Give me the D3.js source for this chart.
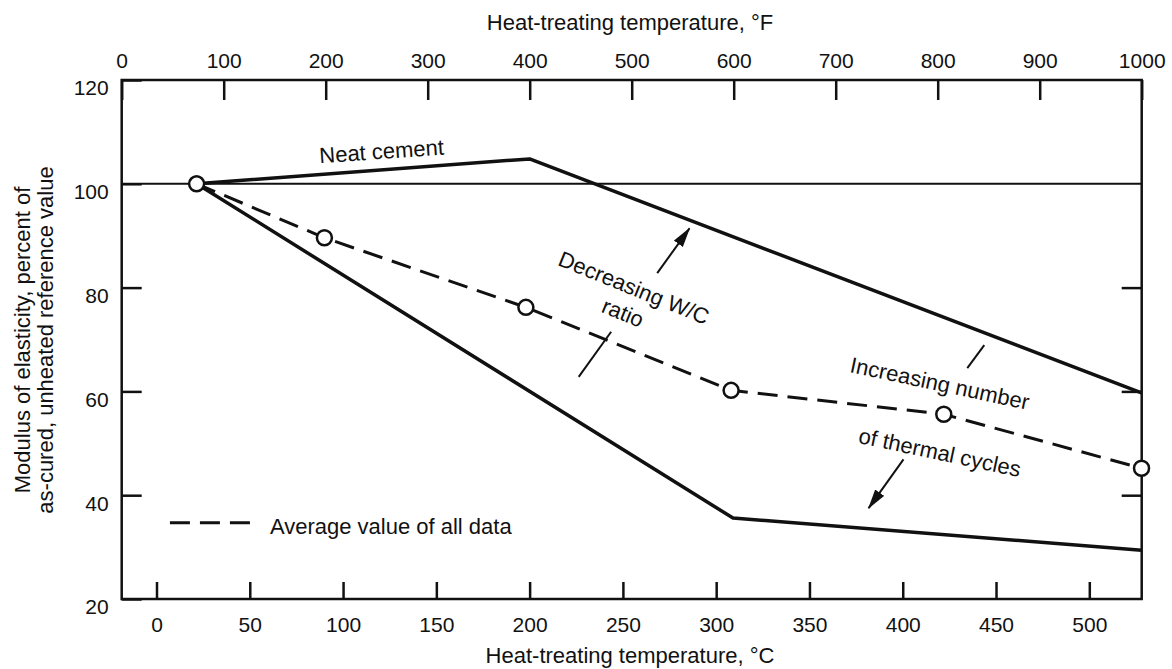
<!DOCTYPE html>
<html>
<head>
<meta charset="utf-8">
<script src="https://cdn.jsdelivr.net/npm/d3@7"></script>
<style>
body { margin: 0; background: #fff; }
svg text { font-family: "Liberation Sans", Arial, sans-serif; fill: #111; }
</style>
</head>
<body>
<div id="chart"></div>
<script>
// temperatures in deg C, modulus in percent of the unheated value
var neatTemp = [21.5, 200, 528];
var neatModulus = [100, 104.8, 59.7];
var lowTemp = [21.5, 309, 528];
var lowModulus = [100, 35.6, 29.4];
var avgTemp = [21.5, 90, 198, 308, 422, 528];
var avgModulus = [100, 89.6, 76.2, 60.2, 55.6, 45.2];

var celsiusTicks = [0, 50, 100, 150, 200, 250, 300, 350, 400, 450, 500];
var fahrenheitTicks = [0, 100, 200, 300, 400, 500, 600, 700, 800, 900, 1000];
var modulusTicks = [20, 40, 60, 80, 100, 120];
var rightTicks = [40, 60, 80];

var width = 1172,
    height = 669;

var svg = d3.select("#chart")
    .append("svg")
    .attr("width", width)
    .attr("height", height)
    .style("background-color", "#fff");

var xC = d3.scaleLinear().domain([0, 500]).range([156.5, 1089.3]);
var xF = d3.scaleLinear().domain([0, 1000]).range([121.7, 1141.7]);
var y = d3.scaleLinear().domain([20, 120]).range([599, 80]);

var ink = "#111";
var fmt = d3.format("d");

function styleAxis(g) {
    g.attr("font-size", 21).attr("font-family", null);
    g.select(".domain").remove();
    g.selectAll(".tick line").attr("stroke", ink).attr("stroke-width", 2.5);
    g.selectAll(".tick text").attr("fill", ink);
}

// bottom axis, deg C
svg.append("g")
    .attr("transform", "translate(0," + y(20) + ")")
    .call(d3.axisBottom(xC).tickValues(celsiusTicks).tickFormat(fmt).tickSizeInner(-17).tickSizeOuter(0).tickPadding(18))
    .call(styleAxis);

// top axis, deg F
svg.append("g")
    .attr("transform", "translate(0," + y(120) + ")")
    .call(d3.axisTop(xF).tickValues(fahrenheitTicks).tickFormat(fmt).tickSizeInner(-20).tickSizeOuter(0).tickPadding(12))
    .call(styleAxis);

// left axis
svg.append("g")
    .attr("transform", "translate(" + xF(0) + ",0)")
    .call(d3.axisLeft(y).tickValues(modulusTicks).tickFormat(fmt).tickSizeInner(-20).tickSizeOuter(0).tickPadding(13))
    .call(styleAxis)
    .selectAll(".tick text").attr("dy", "0.71em");

// right axis, ticks only
svg.append("g")
    .attr("transform", "translate(" + xF(1000) + ",0)")
    .call(d3.axisRight(y).tickValues(rightTicks).tickSizeInner(-20).tickSizeOuter(0).tickFormat(""))
    .call(styleAxis);

// frame
svg.append("rect")
    .attr("x", xF(0))
    .attr("y", y(120))
    .attr("width", xF(1000) - xF(0))
    .attr("height", y(20) - y(120))
    .attr("fill", "none")
    .attr("stroke", ink)
    .attr("stroke-width", 2.5);

// 100 % reference line
svg.append("line")
    .attr("x1", xF(0)).attr("x2", xF(1000))
    .attr("y1", y(100)).attr("y2", y(100))
    .attr("stroke", ink)
    .attr("stroke-width", 2);

var line = d3.line()
    .x(function (d) { return xC(d[0]); })
    .y(function (d) { return y(d[1]); });

svg.append("path")
    .datum(d3.zip(neatTemp, neatModulus))
    .attr("d", line)
    .attr("fill", "none")
    .attr("stroke", ink)
    .attr("stroke-width", 3.5)
    .attr("stroke-linejoin", "round");

svg.append("path")
    .datum(d3.zip(lowTemp, lowModulus))
    .attr("d", line)
    .attr("fill", "none")
    .attr("stroke", ink)
    .attr("stroke-width", 3.5)
    .attr("stroke-linejoin", "round");

svg.append("path")
    .datum(d3.zip(avgTemp, avgModulus))
    .attr("d", line)
    .attr("fill", "none")
    .attr("stroke", ink)
    .attr("stroke-width", 3)
    .attr("stroke-dasharray", "20,10");

svg.selectAll("circle.avg")
    .data(d3.zip(avgTemp, avgModulus))
    .enter()
    .append("circle")
    .attr("class", "avg")
    .attr("cx", function (d) { return xC(d[0]); })
    .attr("cy", function (d) { return y(d[1]); })
    .attr("r", 7.5)
    .attr("fill", "#fff")
    .attr("stroke", ink)
    .attr("stroke-width", 2.5);

// axis titles
svg.append("text")
    .attr("x", 630).attr("y", 30)
    .attr("text-anchor", "middle")
    .attr("font-size", 22)
    .text("Heat-treating temperature, \u00b0F");

svg.append("text")
    .attr("x", 630).attr("y", 663)
    .attr("text-anchor", "middle")
    .attr("font-size", 22)
    .text("Heat-treating temperature, \u00b0C");

var yTitle = ["Modulus of elasticity, percent of", "as-cured, unheated reference value"];
svg.selectAll("text.ytitle")
    .data(yTitle)
    .enter()
    .append("text")
    .attr("class", "ytitle")
    .attr("text-anchor", "middle")
    .attr("font-size", 22)
    .attr("transform", function (d, i) { return "translate(" + (30 + i * 23) + ",340) rotate(-90)"; })
    .text(function (d) { return d; });

// annotations, placed in data units
var defs = svg.append("defs");
defs.append("marker")
    .attr("id", "head")
    .attr("markerUnits", "userSpaceOnUse")
    .attr("markerWidth", 20)
    .attr("markerHeight", 12)
    .attr("refX", 19)
    .attr("refY", 6)
    .attr("orient", "auto")
    .append("path")
    .attr("d", "M0,0.5 L20,6 L0,11.5 Z")
    .attr("fill", ink);

var notes = [
    { text: "Neat cement", t: 120.9, m: 104.8, angle: -4 },
    { text: "Decreasing W/C", t: 254.4, m: 78.6, angle: 22 },
    { text: "ratio", t: 248.5, m: 73.8, angle: 22 },
    { text: "Increasing number", t: 419, m: 60.1, angle: 12 },
    { text: "of thermal cycles", t: 419, m: 46.8, angle: 12 }
];

svg.selectAll("text.note")
    .data(notes)
    .enter()
    .append("text")
    .attr("class", "note")
    .attr("text-anchor", "middle")
    .attr("font-size", 22)
    .attr("transform", function (d) {
        return "translate(" + xC(d.t) + "," + y(d.m) + ") rotate(" + d.angle + ")";
    })
    .text(function (d) { return d.text; });

var pointers = [
    { t1: 268.4, m1: 82.8, t2: 285.7, m2: 91.4, arrow: true },
    { t1: 243.7, m1: 71.5, t2: 226.3, m2: 62.8, arrow: false },
    { t1: 443.7, m1: 68.9, t2: 434.6, m2: 64.5, arrow: false },
    { t1: 400.4, m1: 46.9, t2: 381.7, m2: 37.5, arrow: true }
];

svg.selectAll("line.pointer")
    .data(pointers)
    .enter()
    .append("line")
    .attr("class", "pointer")
    .attr("x1", function (d) { return xC(d.t1); })
    .attr("y1", function (d) { return y(d.m1); })
    .attr("x2", function (d) { return xC(d.t2); })
    .attr("y2", function (d) { return y(d.m2); })
    .attr("stroke", ink)
    .attr("stroke-width", 2)
    .attr("marker-end", function (d) { return d.arrow ? "url(#head)" : null; });

// legend
svg.append("line")
    .attr("x1", xC(7.2)).attr("x2", xC(50.5))
    .attr("y1", y(34.7)).attr("y2", y(34.7))
    .attr("stroke", ink)
    .attr("stroke-width", 3)
    .attr("stroke-dasharray", "20,10");

svg.append("text")
    .attr("x", xC(60.8))
    .attr("y", y(32.5))
    .attr("font-size", 22)
    .text("Average value of all data");
</script>
</body>
</html>
